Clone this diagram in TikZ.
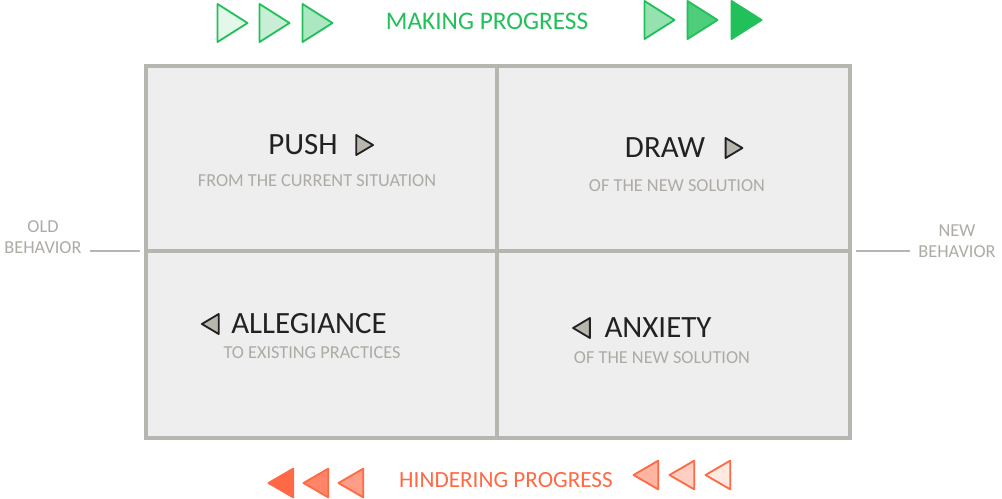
\documentclass[tikz,border=0pt]{standalone}
\usepackage{fontspec}
\setmainfont{Carlito}
\definecolor{ink}{HTML}{222222}
\definecolor{pencil}{HTML}{ADABA4}
\definecolor{frame}{HTML}{B7B5AF}
\definecolor{paper}{HTML}{EEEEEE}
\definecolor{go}{HTML}{22C05A}
\definecolor{stop}{HTML}{FF6A45}
\definecolor{markgray}{HTML}{B9B6AE}
\usetikzlibrary{positioning, shapes.geometric}
\tikzset{
  tri/.style={isosceles triangle, isosceles triangle stretches, draw, line width=1.3pt, line join=round,
    inner sep=0pt, minimum height=0.75cm, minimum width=0.95cm},
  fwd/.style={tri, draw=go, fill=go!#1},
  back/.style={tri, shape border rotate=180, minimum height=0.62cm, minimum width=0.72cm, draw=stop, fill=stop!#1},
}

\begin{document}
\begin{tikzpicture}[
    x=0.025cm, y=-0.025cm,
    title/.style={font=\fontsize{22}{24}\selectfont, text=ink, inner sep=1pt},
    sub/.style={font=\fontsize{13}{15}\selectfont, text=pencil, inner sep=1pt},
    side/.style={font=\fontsize{13}{15}\selectfont, text=pencil, inner sep=1pt, align=center},
    banner/.style={font=\fontsize{18}{20}\selectfont, inner sep=1pt},
    cue/.style={isosceles triangle, isosceles triangle stretches, draw=ink, fill=markgray, line width=1.3pt,
      line join=round, inner sep=0pt, minimum height=0.42cm, minimum width=0.5cm},
    cuel/.style={cue, shape border rotate=180},
    axis/.style={draw=frame, line width=1.2pt},
  ]
  \fill[white] (0,0) rectangle (1002,499);
  \useasboundingbox (0,0) rectangle (1002,499);

  % the four quadrants
  \filldraw[fill=paper, draw=frame, line width=3pt] (146,66) rectangle (850,438);
  \draw[frame, line width=3pt] (497,66) -- (497,438);
  \draw[frame, line width=3pt] (146,251) -- (850,251);
  \coordinate (boxW) at (146,251);
  \coordinate (boxE) at (850,251);

  % top banner
  \node[banner, text=go] (making) at (487,21) {MAKING PROGRESS};
  \node[fwd=12] (g1) at (228,23) {};
  \node[fwd=25] (g2) at (270,23) {};
  \node[fwd=38] (g3) at (313,23) {};
  \node[fwd=48] (g4) at (655,20) {};
  \node[fwd=80] (g5) at (698,20) {};
  \node[fwd=100] (g6) at (742,20) {};

  % bottom banner
  \node[banner, text=stop, font=\fontsize{16.5}{18}\selectfont] (hinder) at (506,480) {HINDERING PROGRESS};
  \node[back=100] (r1) at (285,483) {};
  \node[back=82] (r2) at (320,483) {};
  \node[back=65] (r3) at (355,483) {};
  \node[back=50] (r4) at (650,475) {};
  \node[back=32] (r5) at (686,475) {};
  \node[back=15] (r6) at (722,475) {};

  % push / draw
  \node[title] (push) at (303,145) {PUSH};
  \node[cue, right=0.4cm of push] (pushm) {};
  \node[sub] (pushs) at (317,181) {FROM THE CURRENT SITUATION};
  \node[title] (draw) at (665,148) {DRAW};
  \node[cue, right=0.45cm of draw] (drawm) {};
  \node[sub] (draws) at (677,186) {OF THE NEW SOLUTION};

  % allegiance / anxiety
  \node[title] (alleg) at (309,324) {ALLEGIANCE};
  \node[cuel, left=0.25cm of alleg] (allegm) {};
  \node[sub] (allegs) at (312,353) {TO EXISTING PRACTICES};
  \node[title] (anx) at (658,328) {ANXIETY};
  \node[cuel, left=0.3cm of anx] (anxm) {};
  \node[sub] (anxs) at (662,358) {OF THE NEW SOLUTION};

  % old / new behavior
  \node[side] (old) at (43,237) {OLD\\BEHAVIOR};
  \node[side] (new) at (957,241) {NEW\\BEHAVIOR};
  \draw[axis] ([xshift=0.18cm]old.south east |- boxW) -- ([xshift=-0.15cm]boxW);
  \draw[axis] ([xshift=0.15cm]boxE) -- ([xshift=-0.18cm]new.south west |- boxE);
\end{tikzpicture}
\end{document}
